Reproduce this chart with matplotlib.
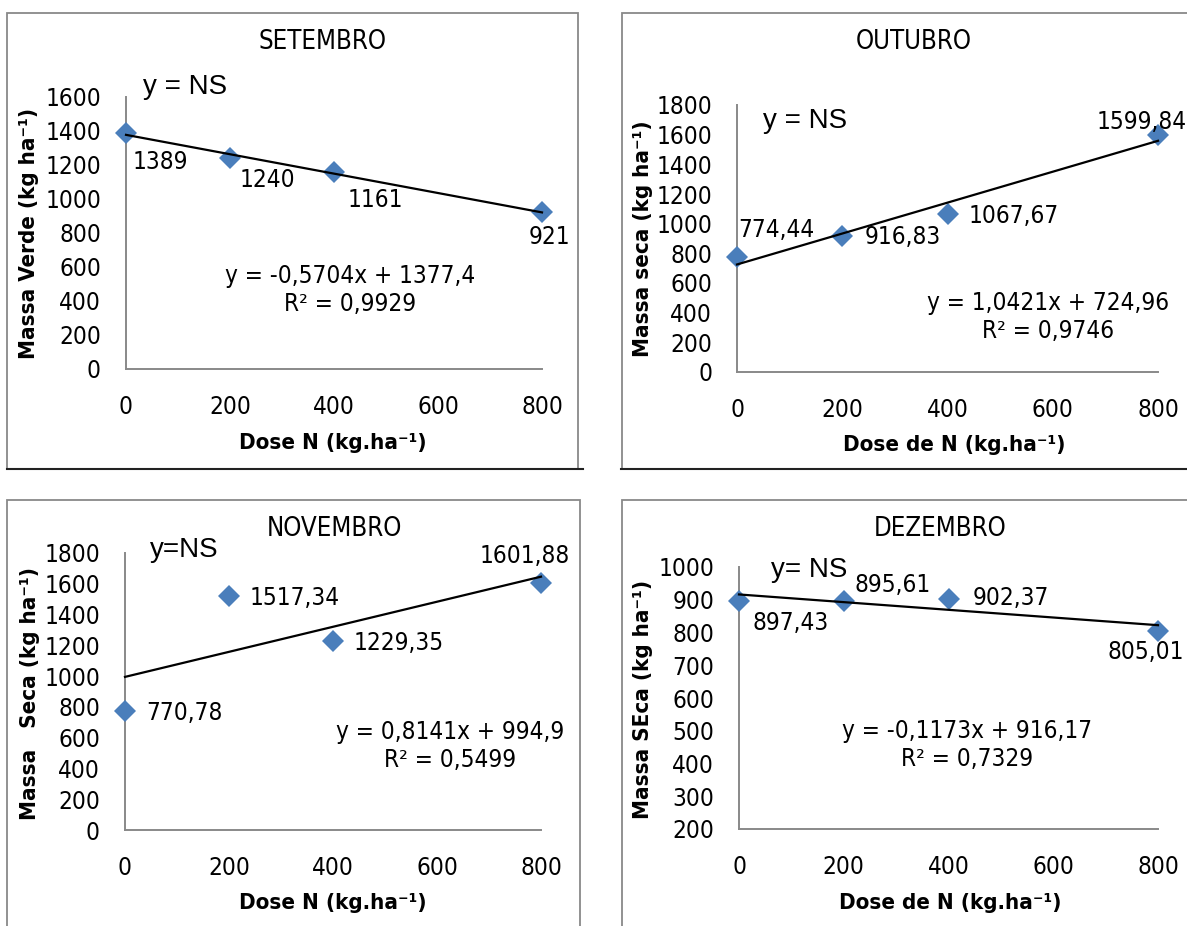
import os
import matplotlib
matplotlib.use('Agg')
import matplotlib.pyplot as plt
import numpy as np
from matplotlib import font_manager as fm
from matplotlib.patches import Rectangle
from matplotlib.lines import Line2D

# data
doses = [0, 200, 400, 800]
months = ['SETEMBRO', 'OUTUBRO', 'NOVEMBRO', 'DEZEMBRO']
set_vals = [1389, 1240, 1161, 921]
out_vals = [774.44, 916.83, 1067.67, 1599.84]
nov_vals = [770.78, 1517.34, 1229.35, 1601.88]
dez_vals = [897.43, 895.61, 902.37, 805.01]
set_fit = (-0.5704, 1377.4, 0.9929)
out_fit = (1.0421, 724.96, 0.9746)
nov_fit = (0.8141, 994.9, 0.5499)
dez_fit = (-0.1173, 916.17, 0.7329)
ns_text = ['y = NS', 'y = NS', 'y=NS', 'y= NS']
ylabels = ['Massa Verde (kg ha\u207b\u00b9)', 'Massa seca (kg ha\u207b\u00b9)',
           'Massa   Seca (kg ha\u207b\u00b9)', 'Massa SEca (kg ha\u207b\u00b9)']
xlabels = ['Dose N (kg.ha\u207b\u00b9)', 'Dose de N (kg.ha\u207b\u00b9)',
           'Dose N (kg.ha\u207b\u00b9)', 'Dose de N (kg.ha\u207b\u00b9)']

W, H = 1187, 926
BLUE = '#4A7EBB'
GREY = '#898989'
FS = 17.5      # numbers, equations
FS_T = 18.5    # panel titles
FS_B = 16      # bold axis labels


# the reference uses a narrow font, look for a condensed face
def pick(names):
    files = {os.path.basename(f.fname): f.fname for f in fm.fontManager.ttflist}
    for n in names:
        if n in files:
            return files[n]
    return None


reg_file = pick(['NotoSans-Condensed.ttf', 'NotoSans-SemiCondensed.ttf',
                 'LiberationSansNarrow-Regular.ttf', 'DejaVuSansCondensed.ttf'])
bold_file = pick(['NotoSans-CondensedBold.ttf', 'NotoSans-SemiCondensedBold.ttf',
                  'LiberationSansNarrow-Bold.ttf', 'DejaVuSansCondensed-Bold.ttf'])


def fp(size, bold=False):
    f = bold_file if bold else reg_file
    if f:
        return fm.FontProperties(fname=f, size=size)
    return fm.FontProperties(family=['Liberation Sans', 'DejaVu Sans'], size=size,
                             weight='bold' if bold else 'normal')


def fx(x):
    return x / W


def fy(y):
    return 1 - y / H


def num(v):
    if float(v).is_integer():
        return '%d' % v
    return ('%.2f' % v).replace('.', ',')


def coef(v):
    s = ('%.4f' % v).rstrip('0').rstrip('.')
    return s.replace('.', ',')


fig = plt.figure(figsize=(W / 100, H / 100), dpi=100)

# panel frames (pixel boxes)
frames = [(7, 13, 578, 469), (622, 13, 1200, 469), (7, 500, 580, 940), (622, 500, 1200, 940)]
for l, t, r, b in frames:
    fig.patches.append(Rectangle((fx(l), fy(b)), (r - l) / W, (b - t) / H, transform=fig.transFigure,
                                 fill=False, ec=GREY, lw=1.3))
fig.lines.append(Line2D([fx(7), fx(583)], [fy(469), fy(469)], transform=fig.transFigure, color='#222222', lw=1.5))
fig.lines.append(Line2D([fx(621), fx(1187)], [fy(469), fy(469)], transform=fig.transFigure, color='#222222', lw=1.5))

# axes boxes: left, right (x=0..800), bottom, top (ylim)
boxes = [(126, 542, 369, 97), (737, 1158, 372, 105), (125, 541, 830, 553), (739, 1158, 829, 567)]
ylims = [(0, 1600), (0, 1800), (0, 1800), (200, 1000)]
ysteps = [200, 200, 200, 100]
series = [set_vals, out_vals, nov_vals, dez_vals]
fits = [set_fit, out_fit, nov_fit, dez_fit]

# label offsets in pixels (dx, dy down) relative to each point
offsets = [
    [(34, 29), (37, 22), (41, 28), (7, 25)],
    [(39, -27), (60, 1), (66, 2), (-16, -13)],
    [(59, 2), (66, 2), (66, 2), (-16, -27)],
    [(52, 22), (49, -16), (62, -1), (-12, 21)],
]
titles_px = [(322, 42), (914, 42), (334, 529), (940, 529)]
ns_px = [(185, 87), (805, 121), (184, 550), (809, 570)]
eq_px = [(350, 290), (1048, 317), (450, 746), (967, 745)]
xlab_px = [(333, 443), (954, 445), (333, 903), (950, 903)]
ylab_px = [(29, 233), (643, 239), (30, 693), (643, 699)]

for i in range(4):
    l, r, b, t = boxes[i]
    ax = fig.add_axes([fx(l), fy(b), (r - l) / W, (b - t) / H])
    vals = series[i]
    slope, icpt, r2 = fits[i]

    ax.plot(doses, vals, 'D', color=BLUE, ms=11, mew=0, clip_on=False, zorder=3)
    xs = np.array([0, 800])
    ax.plot(xs, slope * xs + icpt, color='black', lw=1.6, clip_on=False, zorder=4)

    for x, v, (dx, dy) in zip(doses, vals, offsets[i]):
        ax.annotate(num(v), (x, v), xytext=(dx, -dy), textcoords='offset pixels',
                    ha='center', va='center', fontproperties=fp(FS))

    ax.set_xlim(0, 800)
    ax.set_ylim(*ylims[i])
    ax.set_xticks([0, 200, 400, 600, 800])
    ax.set_yticks(np.arange(ylims[i][0], ylims[i][1] + 1, ysteps[i]))
    for s in ['top', 'right']:
        ax.spines[s].set_visible(False)
    for s in ['left', 'bottom']:
        ax.spines[s].set_color(GREY)
        ax.spines[s].set_linewidth(1.4)
    ax.tick_params(length=0)
    ax.tick_params(axis='x', pad=19)
    ax.tick_params(axis='y', pad=18)
    for lbl in ax.get_xticklabels() + ax.get_yticklabels():
        lbl.set_fontproperties(fp(FS))
    ax.patch.set_alpha(0)

    fig.text(fx(titles_px[i][0]), fy(titles_px[i][1]), months[i], ha='center', va='center',
             fontproperties=fp(FS_T))
    fig.text(fx(ns_px[i][0]), fy(ns_px[i][1]), ns_text[i], ha='center', va='center', fontsize=20,
             family=['Liberation Sans', 'DejaVu Sans'])
    sign = '-' if slope < 0 else ''
    eq = 'y = %s%sx + %s\nR\u00b2 = %s' % (sign, coef(abs(slope)), coef(icpt), coef(r2))
    fig.text(fx(eq_px[i][0]), fy(eq_px[i][1]), eq, ha='center', va='center', fontproperties=fp(FS),
             multialignment='center', linespacing=1.2)
    fig.text(fx(xlab_px[i][0]), fy(xlab_px[i][1]), xlabels[i], ha='center', va='center',
             fontproperties=fp(FS_B, bold=True))
    fig.text(fx(ylab_px[i][0]), fy(ylab_px[i][1]), ylabels[i], ha='center', va='center',
             fontproperties=fp(FS_B, bold=True), rotation=90)

fig.savefig('out.png', dpi=100)
